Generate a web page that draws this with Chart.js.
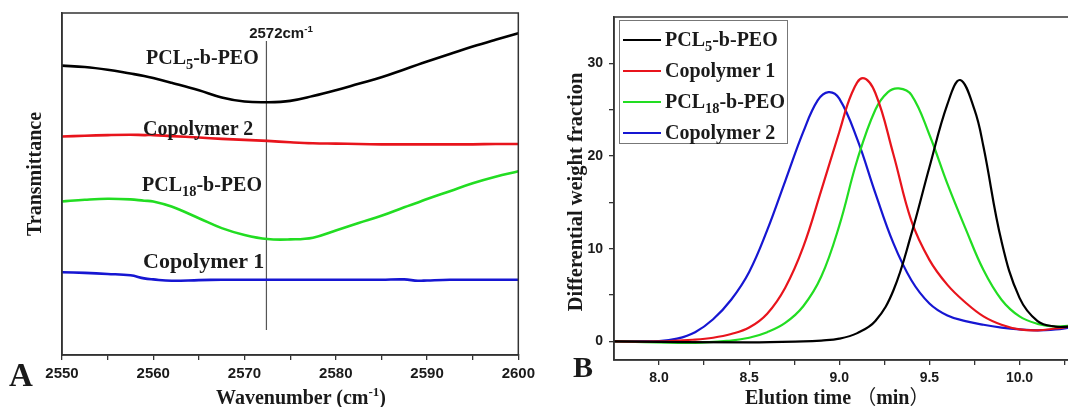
<!DOCTYPE html>
<html>
<head>
<meta charset="utf-8">
<script src="https://cdn.jsdelivr.net/npm/chart.js@4.4.0/dist/chart.umd.min.js"></script>
<style>
  html,body{margin:0;padding:0;background:#fff;overflow:hidden;}
  #wrap{position:relative;width:1068px;height:407px;overflow:hidden;background:#fff;}
  canvas{position:absolute;top:0;}
  #cA{left:0;}
  #cB{left:540px;}
  .lbl{position:absolute;font-family:"Liberation Serif","Times New Roman",serif;font-weight:bold;color:#1a1a1a;white-space:nowrap;line-height:1;}
  .lft{transform:translate(0,-50%);}
  .ctr{transform:translate(-50%,-50%);}
  .rot{transform:translate(-50%,-50%) rotate(-90deg);}
  .sans{font-family:"Liberation Sans",Arial,sans-serif;}
  sub{font-size:0.72em;vertical-align:-0.35em;line-height:0;}
  sup{font-size:0.65em;vertical-align:0.6em;line-height:0;}
  .fp{font-family:"Noto Sans CJK SC",sans-serif;font-weight:normal;}
  #legB{position:absolute;left:619px;top:20px;width:169px;height:124px;border:1px solid #777;box-sizing:border-box;}
  .lline{position:absolute;height:2px;}
</style>
</head>
<body>
<div id="wrap">
  <canvas id="cA" width="540" height="407"></canvas>
  <canvas id="cB" width="545" height="407"></canvas>

  <div class="lbl sans ctr" style="left:281px;top:32px;font-size:15px;">2572cm<sup>-1</sup></div>
  <div class="lbl lft" style="left:146px;top:57px;font-size:20px;">PCL<sub>5</sub>-b-PEO</div>
  <div class="lbl lft" style="left:143px;top:128px;font-size:20px;">Copolymer 2</div>
  <div class="lbl lft" style="left:142px;top:184px;font-size:20px;">PCL<sub>18</sub>-b-PEO</div>
  <div class="lbl lft" style="left:143px;top:261px;font-size:22px;">Copolymer 1</div>
  <div class="lbl rot" style="left:34px;top:174px;font-size:20px;">Transmittance</div>
  <div class="lbl ctr" style="left:301px;top:397px;font-size:20px;">Wavenumber (cm<sup>-1</sup>)</div>
  <div class="lbl ctr" style="left:21px;top:375px;font-size:33px;">A</div>

  <div id="legB"></div>
  <div class="lbl rot" style="left:575px;top:192px;font-size:20.5px;">Differential weight fraction</div>
  <div class="lbl lft" style="left:745px;top:396px;font-size:20px;">Elution time <span class="fp">（</span>min<span class="fp">）</span></div>
  <div class="lbl ctr" style="left:583px;top:367px;font-size:30px;">B</div>
</div>

<script>
// ---------- Panel A data (FTIR, arbitrary transmittance units) ----------
const wavenumbers = [2550, 2552.5, 2555, 2557.5, 2559, 2560, 2562, 2565, 2567.5, 2570, 2572.5, 2575, 2577.5, 2580, 2582.5, 2585, 2587.5, 2589, 2590, 2592.5, 2595, 2597.5, 2600];
const irPCL5   = [84.6, 84.2, 83.4, 82.3, 81.6, 81.0, 79.6, 77.4, 75.3, 74.1, 73.9, 74.3, 75.7, 77.4, 79.3, 81.2, 83.5, 84.9, 85.8, 88.0, 90.2, 92.2, 94.1];
const irCopo2  = [63.9, 64.1, 64.3, 64.4, 64.3, 64.3, 64.0, 63.6, 63.2, 62.9, 62.6, 62.2, 61.9, 61.8, 61.7, 61.6, 61.6, 61.6, 61.6, 61.6, 61.6, 61.7, 61.7];
const irPCL18  = [44.9, 45.4, 45.7, 45.5, 45.1, 44.9, 43.4, 40.0, 37.1, 35.1, 33.9, 33.8, 34.3, 36.4, 38.6, 40.7, 43.2, 44.6, 45.6, 47.9, 50.2, 52.1, 53.7];
const irCopo1  = [24.2, 24.0, 23.7, 23.3, 22.4, 22.1, 21.7, 21.9, 22.0, 22.0, 22.0, 22.0, 22.0, 22.0, 22.0, 22.0, 22.1, 21.7, 21.8, 22.0, 22.0, 22.0, 22.0];
const markerWave = 2572.4;
const markerSpan = [7.3, 91.8];
const waveTicks = [2550, 2555, 2560, 2565, 2570, 2575, 2580, 2585, 2590, 2595, 2600];

// ---------- Panel B data (GPC) ----------
const tPCL5   = [7.75, 8.5, 8.8, 8.9, 9.0, 9.1, 9.2, 9.3, 9.4, 9.5, 9.6, 9.67, 9.75, 9.8, 9.9, 10.0, 10.1, 10.2, 10.28];
const wPCL5   = [0, -0.1, 0, 0.1, 0.3, 0.9, 2.2, 5.5, 11.6, 18.8, 25.6, 28.2, 25.0, 21.0, 10.8, 4.7, 2.2, 1.6, 1.6];
const tCopo1  = [7.75, 8.0, 8.2, 8.3, 8.4, 8.5, 8.6, 8.7, 8.8, 8.9, 9.0, 9.07, 9.13, 9.2, 9.3, 9.4, 9.5, 9.6, 9.7, 9.8, 9.9, 10.0, 10.1, 10.2, 10.28];
const wCopo1  = [0, 0, 0.2, 0.4, 0.8, 1.5, 3.0, 5.8, 10.2, 16.3, 22.6, 26.8, 28.4, 26.8, 20.2, 13.0, 8.8, 6.1, 4.2, 2.7, 1.8, 1.3, 1.2, 1.4, 1.6];
const tPCL18  = [7.75, 8.2, 8.4, 8.5, 8.6, 8.7, 8.8, 8.9, 9.0, 9.1, 9.2, 9.27, 9.33, 9.4, 9.5, 9.6, 9.7, 9.8, 9.9, 10.0, 10.1, 10.2, 10.28];
const wPCL18  = [0, -0.15, 0.1, 0.4, 1.0, 2.0, 3.8, 7.0, 12.5, 19.6, 25.0, 26.9, 27.3, 26.6, 22.3, 17.0, 12.2, 7.7, 4.5, 2.7, 1.9, 1.6, 1.7];
const tCopo2  = [7.75, 8.0, 8.1, 8.2, 8.3, 8.4, 8.5, 8.6, 8.7, 8.8, 8.88, 8.94, 9.0, 9.1, 9.2, 9.3, 9.4, 9.5, 9.6, 9.7, 9.8, 9.9, 10.0, 10.1, 10.2, 10.28];
const wCopo2  = [0, 0.05, 0.3, 1.0, 2.4, 4.5, 7.5, 12.0, 17.3, 22.6, 26.0, 26.9, 26.2, 21.8, 16.0, 10.6, 6.6, 4.1, 2.8, 2.2, 1.8, 1.5, 1.3, 1.2, 1.3, 1.5];
const elutionTicks = [8.0, 8.25, 8.5, 8.75, 9.0, 9.25, 9.5, 9.75, 10.0, 10.25];
const fractionTicks = [0, 5, 10, 15, 20, 25, 30];
const legendNamesB = ['PCL<sub>5</sub>-b-PEO', 'Copolymer 1', 'PCL<sub>18</sub>-b-PEO', 'Copolymer 2'];

const BLACK = '#000000', RED = '#e8141c', GREEN = '#22dd22', BLUE = '#1616d2';

Chart.defaults.font.family = "'Liberation Sans', Arial, sans-serif";
Chart.defaults.color = '#1a1a1a';

const framePlugin = {
  id: 'frame',
  afterDatasetsDraw(chart) {
    const {ctx, chartArea: {left, top, right, bottom}} = chart;
    ctx.save();
    ctx.strokeStyle = '#333';
    ctx.lineWidth = 1.5;
    ctx.strokeRect(left, top, right - left, bottom - top);
    ctx.restore();
  }
};

const pts = (xs, ys) => xs.map((x, i) => ({x, y: ys[i]}));

// ---------- Panel A ----------
new Chart(document.getElementById('cA'), {
  type: 'line',
  data: {
    datasets: [
      {data: pts(wavenumbers, irPCL5),  borderColor: BLACK, borderWidth: 2.6},
      {data: pts(wavenumbers, irCopo2), borderColor: RED,   borderWidth: 2.6},
      {data: pts(wavenumbers, irPCL18), borderColor: GREEN, borderWidth: 2.6},
      {data: pts(wavenumbers, irCopo1), borderColor: BLUE,  borderWidth: 2.6},
      {data: markerSpan.map(y => ({x: markerWave, y})), borderColor: '#555', borderWidth: 1.2, tension: 0}
    ]
  },
  options: {
    responsive: false, animation: false, events: [],
    layout: {padding: {top: 13, right: 18, left: 0, bottom: 0}},
    plugins: {legend: {display: false}, tooltip: {enabled: false}},
    elements: {point: {radius: 0}, line: {tension: 0.4, fill: false}},
    scales: {
      x: {
        type: 'linear', min: 2550, max: 2600,
        afterBuildTicks: s => { s.ticks = waveTicks.map(v => ({value: v})); },
        ticks: {autoSkip: false, maxRotation: 0, padding: 5, font: {size: 15, weight: 'bold'},
                callback: v => (v % 10 === 0 ? String(v) : '')},
        grid: {drawOnChartArea: false, tickLength: 5, tickColor: '#333', lineWidth: 1.3},
        border: {color: '#333', width: 1.5},
        afterFit: s => { s.height = 52; }
      },
      y: {
        type: 'linear', min: 0, max: 100,
        ticks: {display: false},
        grid: {display: false},
        border: {color: '#333', width: 1.5},
        afterFit: s => { s.width = 62; }
      }
    }
  },
  plugins: [framePlugin]
});

// ---------- Panel B ----------
const seriesB = [
  {t: tPCL5, w: wPCL5, c: BLACK},
  {t: tCopo1, w: wCopo1, c: RED},
  {t: tPCL18, w: wPCL18, c: GREEN},
  {t: tCopo2, w: wCopo2, c: BLUE}
];
new Chart(document.getElementById('cB'), {
  type: 'line',
  data: {
    datasets: seriesB.map(s => ({data: pts(s.t, s.w), borderColor: s.c, borderWidth: 2.2}))
  },
  options: {
    responsive: false, animation: false, events: [],
    layout: {padding: {top: 17, right: 15, left: 0, bottom: 0}},
    plugins: {legend: {display: false}, tooltip: {enabled: false}},
    elements: {point: {radius: 0}, line: {tension: 0.4, fill: false}},
    scales: {
      x: {
        type: 'linear', min: 7.75, max: 10.28,
        afterBuildTicks: s => { s.ticks = elutionTicks.map(v => ({value: v})); },
        ticks: {autoSkip: false, maxRotation: 0, padding: 5, font: {size: 14, weight: 'bold'},
                callback: v => (Math.abs(v * 2 - Math.round(v * 2)) < 1e-9 ? v.toFixed(1) : '')},
        grid: {drawOnChartArea: false, tickLength: 5, tickColor: '#333', lineWidth: 1.3},
        border: {color: '#333', width: 1.5},
        afterFit: s => { s.height = 47; }
      },
      y: {
        type: 'linear', min: -2, max: 35,
        afterBuildTicks: s => { s.ticks = fractionTicks.map(v => ({value: v})); },
        ticks: {autoSkip: false, padding: 6, font: {size: 14, weight: 'bold'},
                callback: v => (v % 10 === 0 ? String(v) : '')},
        grid: {drawOnChartArea: false, tickLength: 5, tickColor: '#333', lineWidth: 1.3},
        border: {color: '#333', width: 1.5},
        afterFit: s => { s.width = 74; }
      }
    }
  },
  plugins: [framePlugin]
});

// ---------- Legend for panel B ----------
const wrap = document.getElementById('wrap');
const legendY = [40, 71, 102, 133];
seriesB.forEach((s, i) => {
  const ln = document.createElement('div');
  ln.className = 'lline';
  ln.style.cssText = `left:623px;top:${legendY[i] - 1}px;width:38px;background:${s.c};`;
  wrap.appendChild(ln);
  const tx = document.createElement('div');
  tx.className = 'lbl lft';
  tx.style.cssText = `left:665px;top:${legendY[i] - 1}px;font-size:20px;`;
  tx.innerHTML = legendNamesB[i];
  wrap.appendChild(tx);
});
</script>
</body>
</html>
